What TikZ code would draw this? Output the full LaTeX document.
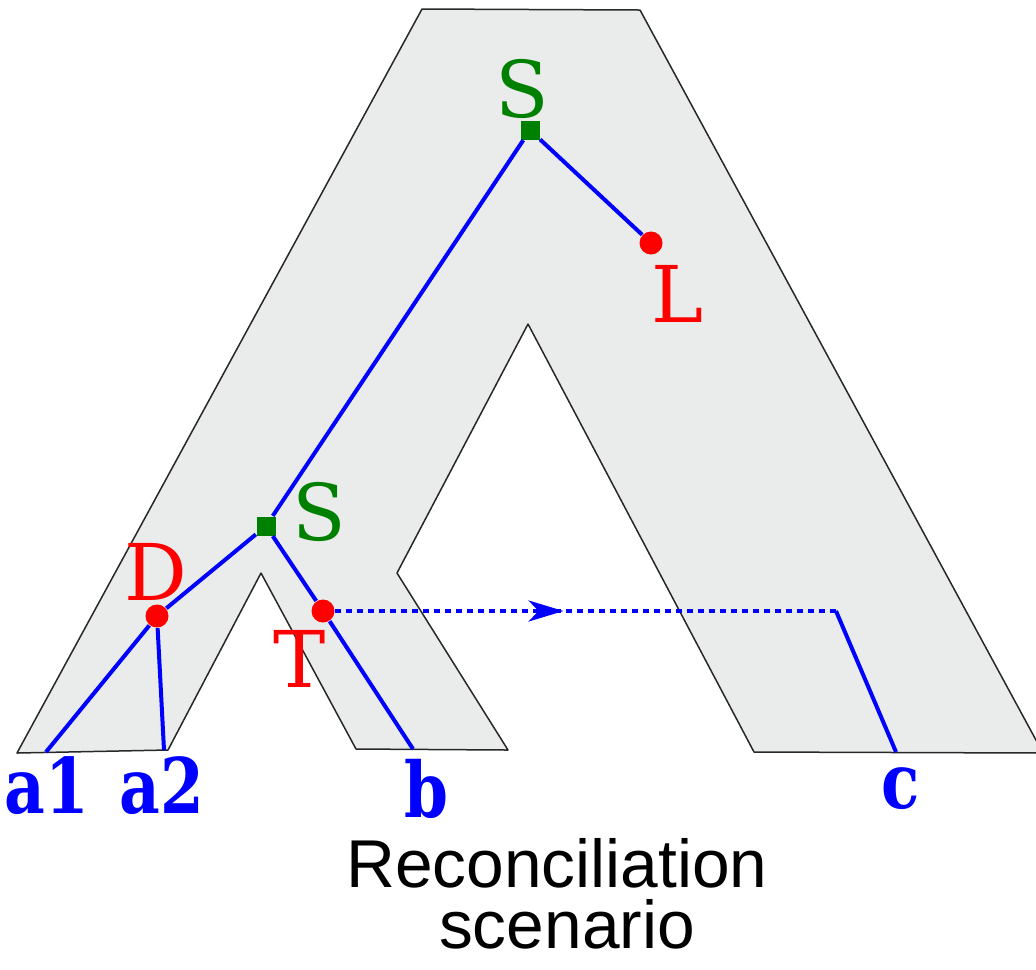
\documentclass[tikz,border=0pt]{standalone}
\usepackage{fontspec}
\newfontfamily\labelfont{DejaVu Serif}
\newfontfamily\leaffont[FakeStretch=0.82]{DejaVu Serif}
\newfontfamily\captionfont{Liberation Sans}
\usetikzlibrary{arrows.meta,decorations.markings}
\definecolor{spfill}{RGB}{233,236,235}
\definecolor{spedge}{RGB}{40,40,40}
\definecolor{evgreen}{RGB}{0,128,0}
\definecolor{evred}{RGB}{255,0,0}
\definecolor{genblue}{RGB}{0,0,255}

\tikzset{
  geneline/.style={genblue, line width=1.2pt},
  transferline/.style={genblue, line width=1.2pt, dash pattern=on 1.8pt off 1.5pt,
    postaction={decorate}, decoration={markings,
      mark=at position 0.456 with {\arrow{Stealth[length=10.5pt,width=6.3pt,inset=3pt]}}}},
  specnode/.style={fill=evgreen, minimum size=5.7pt, inner sep=0pt},
  eventnode/.style={circle, fill=evred, minimum size=6.9pt, inner sep=0pt},
  evlabel/.style={font=\labelfont\fontsize{23.5}{28}\selectfont, anchor=base, inner sep=0pt},
  leaflabel/.style={font=\leaffont\bfseries\fontsize{23}{28}\selectfont, genblue, anchor=base, inner sep=0pt},
  captext/.style={font=\captionfont\fontsize{20.3}{24}\selectfont, anchor=base, inner sep=0pt},
}

\begin{document}
\begin{tikzpicture}[x=0.3pt, y=-0.3pt]
    \useasboundingbox (0,0) rectangle (1036,969);

    % Species tree (grey tube)
    \filldraw[fill=spfill, draw=spedge, line width=0.45pt, line join=round]
      (17,753) -- (422,9) -- (640,10) -- (1043,753) -- (754,752) -- (528,324)
      -- (397,573) -- (508,750) -- (356,749) -- (261,573) -- (168,750) -- cycle;

    % Gene tree events
    \node[specnode] (rootS) at (530,130) {};
    \node[eventnode] (lossL) at (651,243) {};
    \node[specnode] (specS) at (266,526) {};
    \node[eventnode] (dupD) at (157,616) {};
    \node[eventnode] (trT) at (323,611) {};
    \coordinate (trEnd) at (836,611);

    % Gene leaves on the bottom edge
    \coordinate (leafAone) at (46,752);
    \coordinate (leafAtwo) at (164,750);
    \coordinate (leafB) at (413,749);
    \coordinate (leafC) at (896,752);

    % Gene branches
    \draw[geneline] (rootS) -- (lossL);
    \draw[geneline] (rootS) -- (specS);
    \draw[geneline] (specS) -- (dupD);
    \draw[geneline] (specS) -- (trT) -- (leafB);
    \draw[geneline] (dupD) -- (leafAone);
    \draw[geneline] (dupD) -- (leafAtwo);
    \draw[transferline] (trT) -- (trEnd);
    \draw[geneline] (trEnd) -- (leafC);

    % Event labels
    \node[evlabel, evgreen] (labRoot) at (522,117) {S};
    \node[evlabel, evred] (labL) at (677,322) {L};
    \node[evlabel, evgreen] (labS) at (319,540) {S};
    \node[evlabel, evred] (labD) at (156,600) {D};
    \node[evlabel, evred] (labT) at (300,687) {T};

    % Leaf labels
    \foreach \nm/\x/\y in {a1/47/813, a2/162/813, b/426/817, c/901/808} {
      \node[leaflabel] (lab\nm) at (\x,\y) {\nm};
    }

    % Caption
    \node[captext] (capOne) at (557,887) {Reconciliation};
    \node[captext] (capTwo) at (567,948) {scenario};
\end{tikzpicture}
\end{document}
